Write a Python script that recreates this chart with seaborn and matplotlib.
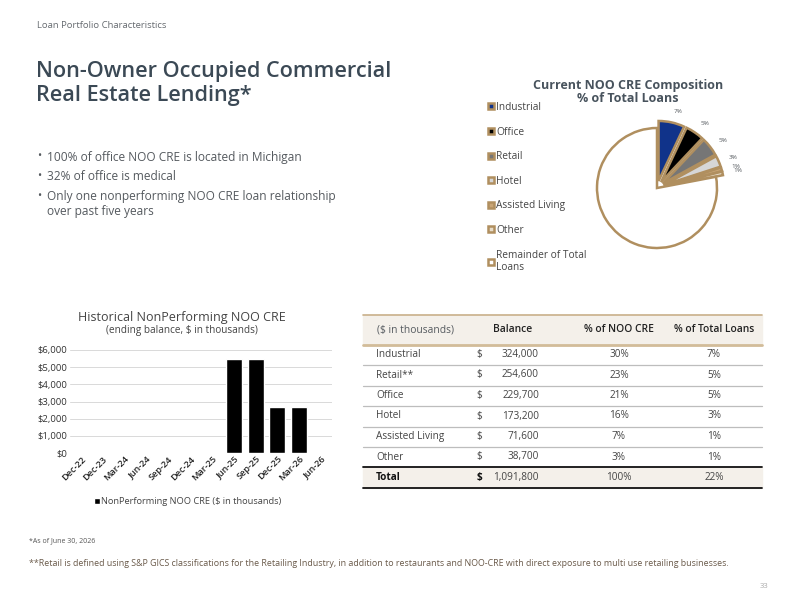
import numpy as np
import matplotlib
matplotlib.use("Agg")
import matplotlib.pyplot as plt
from matplotlib.lines import Line2D
from matplotlib.patches import Rectangle
from matplotlib.ticker import FuncFormatter
import seaborn as sns

# ---- data ----
pie_cats = ['Industrial', 'Office', 'Retail', 'Hotel', 'Assisted Living', 'Other',
            'Remainder of Total\nLoans']
pie_share = [7, 5, 5, 3, 1, 1, 78]
pie_labels = ['7%', '5%', '5%', '3%', '1%', '1%', '']

npl_dates = ['Dec-22', 'Dec-23', 'Mar-24', 'Jun-24', 'Sep-24', 'Dec-24', 'Mar-25',
             'Jun-25', 'Sep-25', 'Dec-25', 'Mar-26', 'Jun-26']
npl_values = [0, 0, 0, 0, 0, 0, 0, 5500, 5500, 2700, 2700, 0]

tbl_header = ['($ in thousands)', 'Balance', '% of NOO CRE', '% of Total Loans']
tbl_rows = ['Industrial', 'Retail**', 'Office', 'Hotel', 'Assisted Living', 'Other', 'Total']
tbl_balance = ['324,000', '254,600', '229,700', '173,200', '71,600', '38,700', '1,091,800']
tbl_pct_noo = ['30%', '23%', '21%', '16%', '7%', '3%', '100%']
tbl_pct_total = ['7%', '5%', '5%', '3%', '1%', '1%', '22%']

bullets = ['100% of office NOO CRE is located in Michigan',
           '32% of office is medical',
           'Only one nonperforming NOO CRE loan relationship\nover past five years']

# ---- style ----
sns.set_theme(style='white')
plt.rcParams['font.family'] = ['Open Sans', 'DejaVu Sans']

W, H = 800, 610
fig = plt.figure(figsize=(8, 6.1), dpi=100)
fig.patch.set_facecolor('white')

TITLE_C = '#3b4955'
TEXT_C = '#555a5f'
GOLD = '#b08f5f'


def ft(x, y, s, **kw):
    kw.setdefault('va', 'center')
    kw.setdefault('color', TEXT_C)
    return fig.text(x / W, 1 - y / H, s, **kw)


def hline(x0, x1, y, color, lw):
    fig.add_artist(Line2D([x0 / W, x1 / W], [1 - y / H, 1 - y / H],
                          transform=fig.transFigure, color=color, lw=lw))


# header + title
ft(37, 25, 'Loan Portfolio Characteristics', fontsize=6.8, color='#666b70')
ft(36, 71, 'Non-Owner Occupied Commercial', fontsize=15.6, color=TITLE_C, fontweight='semibold')
ft(36, 96, 'Real Estate Lending*', fontsize=15.6, color=TITLE_C, fontweight='semibold')

by = [157, 176, 196]
for y, b in zip(by, bullets):
    ft(37, y, '•', fontsize=8)
    ft(47, y - 6, b, fontsize=8.6, va='top', linespacing=1.25)

# ---- pie ----
ft(628, 85, 'Current NOO CRE Composition', fontsize=9.0, fontweight='bold',
   ha='center', color='#48535d')
ft(628, 99, '% of Total Loans', fontsize=9.0, fontweight='bold', ha='center', color='#48535d')

cx, cy, R = 657, 188, 60
pax = fig.add_axes([(cx - 1.25 * R) / W, 1 - (cy + 1.25 * R) / H, 2.5 * R / W, 2.5 * R / H])
pie_colors = ['#10338a', '#000000', '#767676', '#d6d6d6', '#c9a576', '#e8dcc8', '#ffffff']
explode = [0.12] * 6 + [0]
wedges, texts = pax.pie(pie_share, labels=pie_labels, colors=pie_colors, explode=explode,
                        startangle=90, counterclock=False, labeldistance=1.18,
                        wedgeprops=dict(edgecolor=GOLD, linewidth=1.8),
                        textprops=dict(fontsize=4.6, color=TEXT_C))
pax.set_xlim(-1.25, 1.25)
pax.set_ylim(-1.25, 1.25)
fig.legend(wedges, pie_cats, loc='upper left', bbox_to_anchor=(488 / W, 1 - 102 / H),
           frameon=False, fontsize=7.3, handlelength=0.55, handleheight=0.55,
           handletextpad=0.25, labelspacing=1.34, borderaxespad=0, borderpad=0,
           labelcolor='#444')

# ---- bar chart ----
ft(182, 318, 'Historical NonPerforming NOO CRE', fontsize=9.0, ha='center', color='#444')
ft(182, 330, '(ending balance, $ in thousands)', fontsize=7.2, ha='center', color='#444')

bax = fig.add_axes([70 / W, 1 - 453 / H, 262 / W, 103 / H])
sns.barplot(x=npl_dates, y=npl_values, color='black', saturation=1, width=0.74,
            label='NonPerforming NOO CRE ($ in thousands)', ax=bax)
bax.set_ylim(0, 6000)
bax.set_yticks(range(0, 6001, 1000))
bax.yaxis.set_major_formatter(FuncFormatter(lambda v, p: f'${v:,.0f}'))
bax.grid(axis='y', color='#d9d9d9', lw=0.7)
bax.set_axisbelow(True)
sns.despine(ax=bax, left=True, bottom=True)
bax.tick_params(axis='both', length=0, pad=2)
bax.tick_params(axis='y', labelsize=6.8, labelcolor='#333')
bax.tick_params(axis='x', labelsize=6.6, labelcolor='#222', pad=1)
for lab in bax.get_xticklabels():
    lab.set_rotation(45)
    lab.set_ha('right')
    lab.set_rotation_mode('anchor')
    lab.set_fontweight('semibold')
bax.legend(loc='center', bbox_to_anchor=(188 / W, 1 - 502 / H),
           bbox_transform=fig.transFigure, frameon=False, fontsize=6.7,
           handlelength=0.55, handleheight=0.55, handletextpad=0.2, labelcolor='#444')

# ---- table ----
tx0, tx1 = 363, 762
fig.add_artist(Rectangle((tx0 / W, 1 - 345 / H), (tx1 - tx0) / W, 30 / H,
                         transform=fig.transFigure, color='#f4f0ea', zorder=0))
fig.add_artist(Rectangle((tx0 / W, 1 - 488 / H), (tx1 - tx0) / W, 21 / H,
                         transform=fig.transFigure, color='#f4f0ea', zorder=0))
hline(tx0, tx1, 315, '#c9b08a', 1.2)
hline(tx0, tx1, 345, '#d2bc99', 2.0)

ft(377, 330, tbl_header[0], fontsize=7.4)
ft(513, 330, tbl_header[1], fontsize=7.4, ha='center', fontweight='semibold', color='#222')
ft(619, 330, tbl_header[2], fontsize=7.4, ha='center', fontweight='semibold', color='#222')
ft(714, 330, tbl_header[3], fontsize=7.4, ha='center', fontweight='semibold', color='#222')

row_y = [354.5, 375, 395.5, 416, 436.5, 457, 477.5]
for i, (y, name, bal, p1, p2) in enumerate(zip(row_y, tbl_rows, tbl_balance,
                                                tbl_pct_noo, tbl_pct_total)):
    last = i == len(tbl_rows) - 1
    wt = 'bold' if last else 'normal'
    col = '#111' if last else '#444'
    ft(376, y, name, fontsize=7.2, fontweight=wt, color=col)
    ft(479, y, '$', fontsize=7.2, ha='center', fontweight=wt, color=col)
    ft(539, y, bal, fontsize=7.2, ha='right', color='#444')
    ft(619, y, p1, fontsize=7.2, ha='center', color='#444')
    ft(714, y, p2, fontsize=7.2, ha='center', color='#444')
    if i < len(tbl_rows) - 2:
        hline(tx0, tx1, y + 10.5, '#bdbdbd', 0.9)
hline(tx0, tx1, 467, '#111111', 1.3)
hline(tx0, tx1, 488, '#111111', 1.3)

# ---- footnotes ----
ft(29, 541, '*As of June 30, 2026', fontsize=5.0, color='#555')
ft(29, 563, '**Retail is defined using S&P GICS classifications for the Retailing Industry, '
   'in addition to restaurants and NOO-CRE with direct exposure to multi use retailing businesses.',
   fontsize=6.4, color='#6a5a4a')
ft(768, 587, '33', fontsize=5.5, ha='right', color='#aaa')

fig.savefig('out.png', dpi=100, facecolor='white')
